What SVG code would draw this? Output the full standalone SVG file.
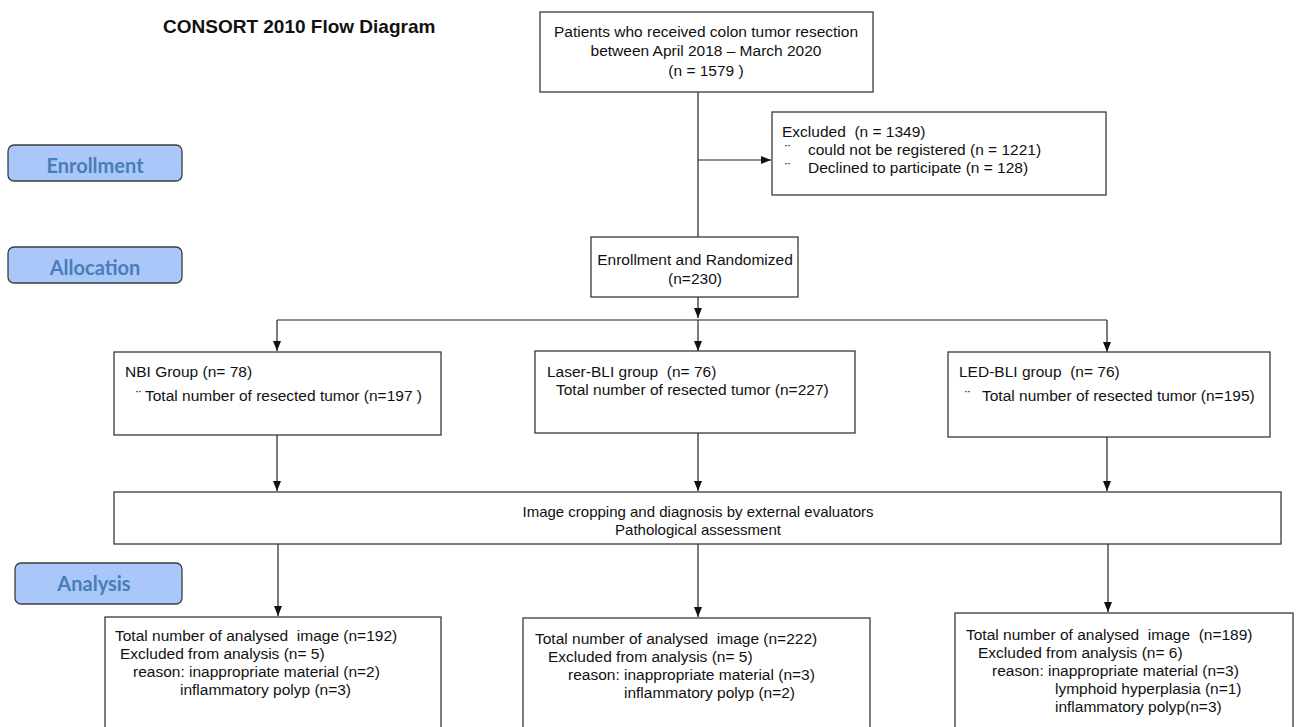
<svg xmlns="http://www.w3.org/2000/svg" width="1301" height="727" viewBox="0 0 1301 727">
<style>
.box{fill:#fff;stroke:#3a3a3a;stroke-width:1.3}
.t{font-family:"Liberation Sans",Arial,sans-serif;font-size:15.5px;fill:#111;white-space:pre}
.m{text-anchor:middle}
.lbl rect{fill:#a9c7f8;stroke:#3d3d3d;stroke-width:1.3}
.lbl text{font-family:Lato,"Open Sans",sans-serif;font-weight:bold;font-size:20px;fill:#4a7cb8;text-anchor:middle}
.c{stroke:#222;stroke-width:1.2;fill:none}
.a{marker-end:url(#ah)}
</style>
<defs>
<marker id="ah" viewBox="0 0 10 8" refX="10" refY="4" markerWidth="10" markerHeight="8" markerUnits="userSpaceOnUse" orient="auto"><path d="M0,0L10,4L0,8z" fill="#111"/></marker>
</defs>
<rect width="1301" height="727" fill="#fff"/>
<text x="163" y="33" style="font-family:'Liberation Sans',Arial,sans-serif;font-weight:bold;font-size:19px;fill:#111">CONSORT 2010 Flow Diagram</text>

<g id="lbl-enrollment" class="lbl"><rect x="8" y="145" width="174" height="36" rx="6"/><text x="95" y="173">Enrollment</text></g>
<g id="lbl-allocation" class="lbl"><rect x="8" y="247" width="174" height="36" rx="6"/><text x="95" y="275">Allocation</text></g>
<g id="lbl-analysis" class="lbl"><rect x="15" y="563" width="167" height="41" rx="6"/><text x="94" y="591">Analysis</text></g>

<g id="connectors">
<path class="c" d="M698,92V237"/>
<path class="c a" d="M698,160H771"/>
<path class="c a" d="M698,297V318"/>
<path class="c" d="M277,320H1107"/>
<path class="c a" d="M277,320V351"/>
<path class="c a" d="M698,320V351"/>
<path class="c a" d="M1107,320V352"/>
<path class="c a" d="M277,435V491"/>
<path class="c a" d="M698,433V491"/>
<path class="c a" d="M1107,437V491"/>
<path class="c a" d="M278,544V616"/>
<path class="c a" d="M698,544V617"/>
<path class="c a" d="M1108,544V612"/>
</g>

<g id="n-patients"><rect class="box" x="540" y="12" width="333" height="80"/>
<text class="t m" x="706" y="37">Patients who received colon tumor resection</text>
<text class="t m" x="706" y="56">between April 2018 – March 2020</text>
<text class="t m" x="706" y="76">(n = 1579 )</text></g>

<g id="n-excluded"><rect class="box" x="772" y="112" width="334" height="83"/>
<text class="t" x="782" y="137">Excluded  (n = 1349)</text>
<text class="t" x="785" y="155">¨</text><text class="t" x="808" y="155">could not be registered (n = 1221)</text>
<text class="t" x="785" y="173">¨</text><text class="t" x="808" y="173">Declined to participate (n = 128)</text></g>

<g id="n-enroll"><rect class="box" x="591" y="237" width="207" height="60"/>
<text class="t m" x="695" y="265">Enrollment and Randomized</text>
<text class="t m" x="695" y="284">(n=230)</text></g>

<g id="n-nbi"><rect class="box" x="114" y="352" width="327" height="83"/>
<text class="t" x="125" y="377">NBI Group (n= 78)</text>
<text class="t" x="136" y="401">¨</text><text class="t" x="145" y="401">Total number of resected tumor (n=197 )</text></g>

<g id="n-laser"><rect class="box" x="535" y="351" width="320" height="82"/>
<text class="t" x="547" y="377">Laser-BLI group  (n= 76)</text>
<text class="t" x="556" y="395">Total number of resected tumor (n=227)</text></g>

<g id="n-led"><rect class="box" x="948" y="352" width="322" height="85"/>
<text class="t" x="959" y="377">LED-BLI group  (n= 76)</text>
<text class="t" x="965" y="401">¨</text><text class="t" x="982" y="401">Total number of resected tumor (n=195)</text></g>

<g id="n-eval"><rect class="box" x="114" y="492" width="1167" height="52"/>
<text class="t m" x="698" y="517" style="font-size:15px">Image cropping and diagnosis by external evaluators</text>
<text class="t m" x="698" y="535" style="font-size:15px">Pathological assessment</text></g>

<g id="n-nbi-analysis"><rect class="box" x="105" y="617" width="336" height="130"/>
<text class="t" x="115" y="641">Total number of analysed  image (n=192)</text>
<text class="t" x="120" y="659">Excluded from analysis (n= 5)</text>
<text class="t" x="133" y="677">reason: inappropriate material (n=2)</text>
<text class="t" x="180" y="695">inflammatory polyp (n=3)</text></g>

<g id="n-laser-analysis"><rect class="box" x="523" y="618" width="347" height="130"/>
<text class="t" x="535" y="644">Total number of analysed  image (n=222)</text>
<text class="t" x="548" y="662">Excluded from analysis (n= 5)</text>
<text class="t" x="568" y="680">reason: inappropriate material (n=3)</text>
<text class="t" x="624" y="698">inflammatory polyp (n=2)</text></g>

<g id="n-led-analysis"><rect class="box" x="955" y="613" width="338" height="130"/>
<text class="t" x="966" y="640">Total number of analysed  image  (n=189)</text>
<text class="t" x="978" y="658">Excluded from analysis (n= 6)</text>
<text class="t" x="992" y="676">reason: inappropriate material (n=3)</text>
<text class="t" x="1055" y="694">lymphoid hyperplasia (n=1)</text>
<text class="t" x="1055" y="712">inflammatory polyp(n=3)</text></g>
</svg>
